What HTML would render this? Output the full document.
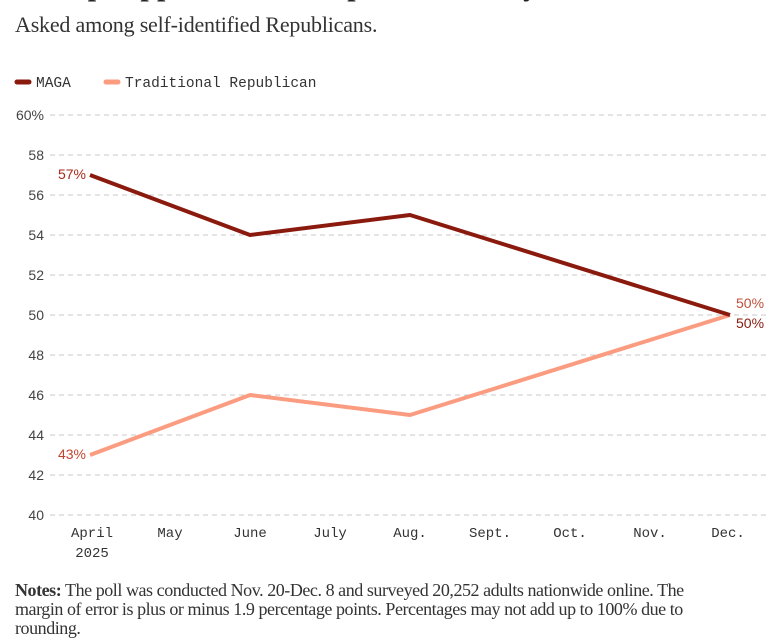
<!DOCTYPE html>
<html><head><style>
body{margin:0;background:#fff;width:778px;height:630px;overflow:hidden;position:relative;font-family:"Liberation Sans",sans-serif}
.t{position:absolute;left:15px;top:-31px;font:bold 30px "Liberation Serif",serif;color:#222;white-space:nowrap}
.s{position:absolute;left:15px;top:12px;font:22px "Liberation Serif",serif;color:#333;letter-spacing:-0.2px}
.n{position:absolute;left:15px;top:581px;width:712px;font:18px/19px "Liberation Serif",serif;color:#333;letter-spacing:-0.45px}
</style></head><body>
<div class="t">Trump support for the Republican Party</div>
<div class="s">Asked among self-identified Republicans.</div>
<svg width="778" height="630" style="position:absolute;left:0;top:0">
<g font-family="Liberation Mono, monospace" font-size="14.5" fill="#333">
<line x1="17" y1="82" x2="29" y2="82" stroke="#8b1a0e" stroke-width="5" stroke-linecap="round"/>
<text x="36" y="87">MAGA</text>
<line x1="106" y1="82" x2="118" y2="82" stroke="#fb9c80" stroke-width="5" stroke-linecap="round"/>
<text x="125" y="87">Traditional Republican</text>
</g>
<g stroke="#c8c8c8" stroke-dasharray="5,4" stroke-width="1">
<line x1="50" y1="115" x2="770" y2="115"/><line x1="50" y1="155" x2="770" y2="155"/>
<line x1="50" y1="195" x2="770" y2="195"/><line x1="50" y1="235" x2="770" y2="235"/>
<line x1="50" y1="275" x2="770" y2="275"/><line x1="50" y1="315" x2="770" y2="315"/>
<line x1="50" y1="355" x2="770" y2="355"/><line x1="50" y1="395" x2="770" y2="395"/>
<line x1="50" y1="435" x2="770" y2="435"/><line x1="50" y1="475" x2="770" y2="475"/>
<line x1="50" y1="515" x2="770" y2="515"/>
</g>
<g font-family="Liberation Sans, sans-serif" font-size="14" fill="#444" text-anchor="end">
<text x="44" y="120">60%</text><text x="44" y="160">58</text><text x="44" y="200">56</text>
<text x="44" y="240">54</text><text x="44" y="280">52</text><text x="44" y="320">50</text>
<text x="44" y="360">48</text><text x="44" y="400">46</text><text x="44" y="440">44</text>
<text x="44" y="480">42</text><text x="44" y="520">40</text>
</g>
<g font-family="Liberation Mono, monospace" font-size="14" fill="#333" text-anchor="middle">
<text x="92" y="537">April</text><text x="92" y="557">2025</text>
<text x="170" y="537">May</text><text x="250" y="537">June</text><text x="330" y="537">July</text>
<text x="410" y="537">Aug.</text><text x="490" y="537">Sept.</text><text x="570" y="537">Oct.</text>
<text x="650" y="537">Nov.</text><text x="728" y="537">Dec.</text>
</g>
<polyline points="90,455 250,395 410,415 730,315" fill="none" stroke="#fb9c80" stroke-width="4" stroke-linejoin="round"/>
<polyline points="90,175 250,235 410,215 730,315" fill="none" stroke="#8b1a0e" stroke-width="4" stroke-linejoin="round"/>
<g font-family="Liberation Sans, sans-serif" font-size="14">
<text x="86" y="179" text-anchor="end" fill="#a82a1a">57%</text>
<text x="86" y="459" text-anchor="end" fill="#c4452e">43%</text>
<text x="736" y="308" fill="#c0503c">50%</text>
<text x="736" y="328" fill="#8b1a0e">50%</text>
</g>
</svg>
<div class="n"><b>Notes:</b> The poll was conducted Nov. 20-Dec. 8 and surveyed 20,252 adults nationwide online. The margin of error is plus or minus 1.9 percentage points. Percentages may not add up to 100% due to rounding.</div>
</body></html>
